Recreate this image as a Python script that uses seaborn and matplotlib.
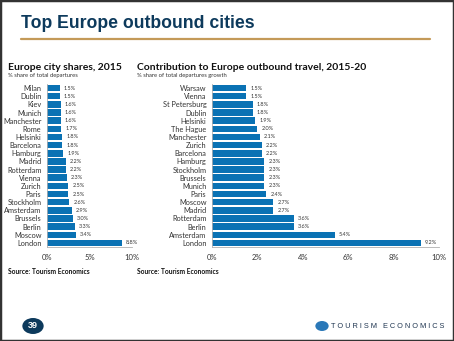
import matplotlib
matplotlib.use("Agg")
import matplotlib.pyplot as plt
import seaborn as sns
from matplotlib.patches import Rectangle, Circle

# City shares of Europe outbound departures, 2015 (%)
cities_2015 = ["Milan", "Dublin", "Kiev", "Munich", "Manchester", "Rome", "Helsinki",
               "Barcelona", "Hamburg", "Madrid", "Rotterdam", "Vienna", "Zurich", "Paris",
               "Stockholm", "Amsterdam", "Brussels", "Berlin", "Moscow", "London"]
shares_2015 = [1.5, 1.5, 1.6, 1.6, 1.6, 1.7, 1.8, 1.8, 1.9, 2.2, 2.2, 2.3, 2.5, 2.5,
               2.6, 2.9, 3.0, 3.3, 3.4, 8.8]

# Contribution to Europe outbound departures growth, 2015-20 (%)
cities_growth = ["Warsaw", "Vienna", "St Petersburg", "Dublin", "Helsinki", "The Hague",
                 "Manchester", "Zurich", "Barcelona", "Hamburg", "Stockholm", "Brussels",
                 "Munich", "Paris", "Moscow", "Madrid", "Rotterdam", "Berlin", "Amsterdam",
                 "London"]
shares_growth = [1.5, 1.5, 1.8, 1.8, 1.9, 2.0, 2.1, 2.2, 2.2, 2.3, 2.3, 2.3, 2.3, 2.4,
                 2.7, 2.7, 3.6, 3.6, 5.4, 9.2]

ticks_left = [0, 5, 10]
ticks_right = [0, 2, 4, 6, 8, 10]

sns.set_style("white")
plt.rcParams["font.family"] = ["Lato", "DejaVu Sans"]

BAR = "#0a72b4"
AXIS = "#b0b0b0"
NAVY = "#0d3a5c"
TEXT = "#333333"

W, H = 454, 341
fig = plt.figure(figsize=(W / 100, H / 100), dpi=100)


def fx(px):
    return px / W


def fy(py):
    return 1 - py / H


def panel(ax, cities, values, ticks):
    sns.barplot(x=values, y=cities, color=BAR, width=0.8, ax=ax, saturation=1,
                linewidth=0, edgecolor="none")
    ax.set_xlim(ticks[0], ticks[-1])
    ax.set_xticks(ticks)
    ax.set_xticklabels([f"{t}%" for t in ticks], fontsize=5.5, color=TEXT)
    ax.tick_params(axis="y", labelsize=5.3, labelcolor=TEXT, length=2, width=0.5,
                   color=AXIS, pad=2)
    ax.tick_params(axis="x", length=2, width=0.5, color=AXIS, pad=3)
    ax.set_xlabel("")
    ax.set_ylabel("")
    for side in ["top", "right"]:
        ax.spines[side].set_visible(False)
    for side in ["left", "bottom"]:
        ax.spines[side].set_color(AXIS)
        ax.spines[side].set_linewidth(0.6)
    for cont in ax.containers:
        ax.bar_label(cont, labels=[f"{v:.1f}%" for v in values], fontsize=4,
                     color=TEXT, padding=3)


ax1 = fig.add_axes([fx(47), fy(247), fx(132 - 47), fy(84) - fy(247)])
panel(ax1, cities_2015, shares_2015, ticks_left)

ax2 = fig.add_axes([fx(212), fy(247), fx(439 - 212), fy(84) - fy(247)])
panel(ax2, cities_growth, shares_growth, ticks_right)

# Slide heading and rule
fig.text(fx(21), fy(24), "Top Europe outbound cities", fontsize=12.7, fontweight="bold",
         color=NAVY, family="Liberation Sans", va="center", ha="left")
fig.add_artist(plt.Line2D([fx(21), fx(430)], [fy(38.5), fy(38.5)], color="#c49a58",
                          linewidth=1.6))

# Panel titles, subtitles and sources
fig.text(fx(8), fy(67), "Europe city shares, 2015", fontsize=7.5, fontweight="bold",
         color="#111111", va="center")
fig.text(fx(8), fy(75.5), "% share of total departures", fontsize=4.2, color=TEXT,
         va="center")
fig.text(fx(137), fy(67), "Contribution to Europe outbound travel, 2015-20", fontsize=7.5,
         fontweight="bold", color="#111111", va="center")
fig.text(fx(137), fy(75.5), "% share of total departures growth", fontsize=4.2,
         color=TEXT, va="center")
fig.text(fx(8), fy(272), "Source: Tourism Economics", fontsize=4.8, fontweight="bold",
         color="#111111", va="center")
fig.text(fx(137), fy(272), "Source: Tourism Economics", fontsize=4.8, fontweight="bold",
         color="#111111", va="center")

# Footer: page number badge and company mark
fig.add_artist(Circle((fx(33), fy(326)), 8 / H, transform=fig.transFigure,
                      facecolor=NAVY, edgecolor="none"))
fig.text(fx(33), fy(326), "39", fontsize=6.5, fontweight="bold", color="white",
         family="Liberation Sans", ha="center", va="center")
fig.add_artist(Circle((fx(322), fy(326)), 5 / H, transform=fig.transFigure,
                      facecolor="#2a78b8", edgecolor="none"))
fig.text(fx(444), fy(326), "T O U R I S M   E C O N O M I C S", fontsize=5.3,
         color="#1f3550", family="Liberation Sans", ha="right", va="center")

# Outer frame
fig.add_artist(Rectangle((0, 0), 1, 1, transform=fig.transFigure, fill=False,
                         edgecolor="#333333", linewidth=2.5))

fig.savefig("out.png", dpi=100)
